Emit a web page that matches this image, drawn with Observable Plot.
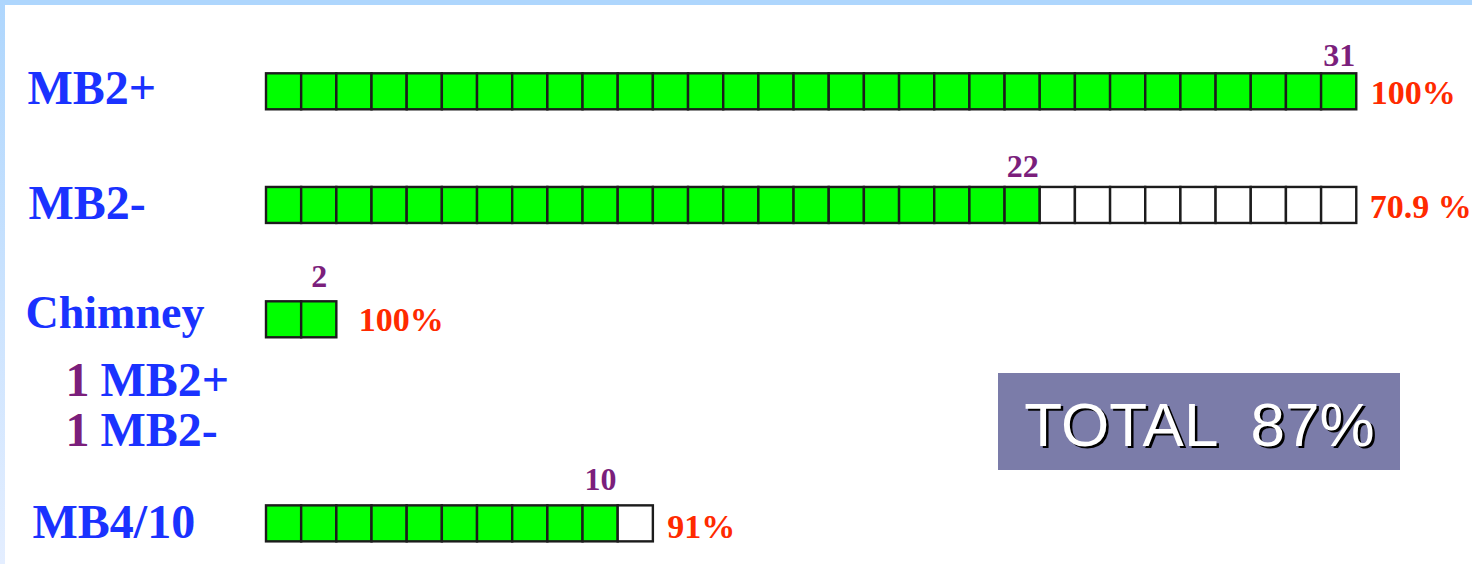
<!DOCTYPE html>
<html><head><meta charset="utf-8">
<script src="https://cdn.jsdelivr.net/npm/d3@7"></script>
<script src="https://cdn.jsdelivr.net/npm/@observablehq/plot@0.6"></script>
<style>
html,body{margin:0;padding:0;background:#fff;}
#wrap{position:relative;width:1472px;height:564px;overflow:hidden;}
#wrap svg text{white-space:pre;}
.band-top{position:absolute;left:0;top:0;width:1472px;height:5px;background:#aed6fd;}
.band-left{position:absolute;left:0;top:0;width:5px;height:564px;background:linear-gradient(#aed6fd,#e4eeff);}
</style></head><body><div id="wrap"></div>
<script>
// ---- data ----
const categories = ["MB2+", "MB2-", "Chimney", "MB4/10"];
const positives = [31, 22, 2, 10];
const totals = [31, 31, 2, 11];
const percentLabels = ["100%", "70.9 %", "100%", "91%"];
const chimneyCounts = [1, 1];
const chimneyTypes = ["MB2+", "MB2-"];
const totalLabel = "TOTAL  87%";

// ---- layout ----
const W = 1472, H = 564;
const SQ = 35.17, ROW = 114, X0 = 266, Y0 = 91.3;
const HALF = 18 / ROW;
const rowSlot = [0, 0.997, 2.0, 3.79];
const labelLeft = [27, 28, 25, 32];
const labelSize = [48, 48, 46, 48];
const labelBase = [12, 14, 8, 14];
const numberGap = [26, 28, 33, 34];
const pctBase = [12, 13, 11, 14];
const pctGap = [14, 13, 22, 14];
const pxX = px => (px - X0) / SQ;
const pxY = px => (px - Y0) / ROW;

const SERIF = "'Liberation Serif', 'Times New Roman', serif";
const SANS = "'Liberation Sans', Arial, sans-serif";
const BLUE = "#1a32ff", PURPLE = "#7b1f7c", RED = "#ff2a00";

const rows = categories.map((cat, k) => ({
  cat, count: positives[k], total: totals[k], pct: percentLabels[k], slot: rowSlot[k],
  labelLeft: labelLeft[k], labelSize: labelSize[k], labelBase: labelBase[k],
  numberGap: numberGap[k], pctBase: pctBase[k], pctGap: pctGap[k]
}));
const cells = rows.flatMap(r => d3.range(r.total).map(i => ({...r, i, filled: i < r.count})));
const chimneyRow = rows[2];
const parts = chimneyCounts.map((n, k) => ({n, type: chimneyTypes[k], k}));

const labelMarks = [48, 46].map(size => Plot.text(rows.filter(r => r.labelSize === size), {
  x: d => pxX(d.labelLeft), y: d => d.slot + d.labelBase / ROW,
  text: "cat", textAnchor: "start", lineAnchor: "bottom",
  fontSize: size, fontFamily: SERIF, fontWeight: "bold", fill: BLUE
}));

const chart = Plot.plot({
  width: W, height: H,
  marginTop: 0, marginRight: 0, marginBottom: 0, marginLeft: 0,
  x: {domain: [pxX(0), pxX(W)], range: [0, W], axis: null},
  y: {domain: [pxY(0), pxY(H)], range: [0, H], axis: null},
  color: {type: "identity"},
  style: {background: "transparent", overflow: "visible"},
  marks: [
    Plot.rect(cells, {
      x1: "i", x2: d => d.i + 1,
      y1: d => d.slot - HALF, y2: d => d.slot + HALF,
      fill: d => d.filled ? "#00ff00" : "#ffffff",
      stroke: "#1c1c1c", strokeWidth: 2.4
    }),
    ...labelMarks,
    Plot.text(rows, {
      x: d => d.count - 0.5, y: d => d.slot - d.numberGap / ROW,
      text: d => String(d.count), textAnchor: "middle", lineAnchor: "bottom",
      fontSize: 32, fontFamily: SERIF, fontWeight: "bold", fill: PURPLE
    }),
    Plot.text(rows, {
      x: d => d.total + d.pctGap / SQ, y: d => d.slot + d.pctBase / ROW,
      text: "pct", textAnchor: "start", lineAnchor: "bottom",
      fontSize: 34, fontFamily: SERIF, fontWeight: "bold", fill: RED
    }),
    Plot.text(parts, {
      x: () => pxX(65), y: d => chimneyRow.slot + (75.7 + d.k * 50) / ROW,
      text: d => String(d.n), textAnchor: "start", lineAnchor: "bottom",
      fontSize: 48, fontFamily: SERIF, fontWeight: "bold", fill: PURPLE
    }),
    Plot.text(parts, {
      x: () => pxX(100), y: d => chimneyRow.slot + (75.7 + d.k * 50) / ROW,
      text: "type", textAnchor: "start", lineAnchor: "bottom",
      fontSize: 48, fontFamily: SERIF, fontWeight: "bold", fill: BLUE
    }),
    Plot.rect([totalLabel], {
      x1: () => pxX(998), x2: () => pxX(1400), y1: () => pxY(373), y2: () => pxY(470),
      fill: "#7b7ca9"
    }),
    Plot.text([totalLabel], {
      x: () => pxX(1199), y: () => pxY(445), text: d => d, dx: 2.5, dy: 2.5,
      textAnchor: "middle", lineAnchor: "bottom",
      fontSize: 62, fontFamily: SANS, fill: "#000000"
    }),
    Plot.text([totalLabel], {
      x: () => pxX(1199), y: () => pxY(445), text: d => d,
      textAnchor: "middle", lineAnchor: "bottom",
      fontSize: 62, fontFamily: SANS, fill: "#ffffff"
    })
  ]
});
const wrap = document.getElementById("wrap");
wrap.appendChild(chart);
const t = document.createElement("div"); t.className = "band-top"; wrap.appendChild(t);
const l = document.createElement("div"); l.className = "band-left"; wrap.appendChild(l);
</script></body></html>
